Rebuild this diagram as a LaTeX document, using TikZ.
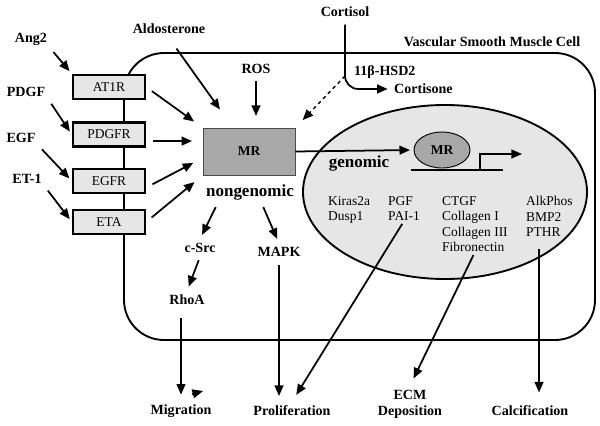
\documentclass[tikz,border=0pt]{standalone}
\usepackage{fontspec}
\setmainfont{Liberation Serif}
\usepackage{xcolor}
\usetikzlibrary{arrows.meta,shapes.geometric,positioning}
\definecolor{mrgray}{HTML}{A8A8A8}
\definecolor{boxgray}{HTML}{E6E6E6}

\begin{document}
\begin{tikzpicture}
[x=0.03cm,y=-0.03cm,>={Triangle[length=9pt,width=7.5pt]},
every node/.style={font=\fontsize{11.5}{13.2}\selectfont},
lbl/.style={font=\fontsize{12}{13.5}\selectfont\bfseries},
big/.style={font=\fontsize{14.5}{16}\selectfont\bfseries},
rec/.style={draw,line width=2pt,fill=boxgray,minimum width=2.16cm,
	minimum height=0.72cm,inner sep=0pt},
arr/.style={->,line width=1.5pt,shorten <=3pt,shorten >=3pt},
genes/.style={align=left,anchor=north west,inner sep=0pt}]
\useasboundingbox (0,0) rectangle (600,425);

% cell and nucleus
\draw[line width=1.6pt,rounded corners=1.2cm] (124,53) rectangle (595,340);
\node[ellipse,draw,line width=1.6pt,fill=boxgray,minimum width=8.52cm,
	minimum height=5.22cm,inner sep=0pt] (nucleus) at (445,192) {};
\node[lbl] (vsmc) at (492,42) {Vascular Smooth Muscle Cell};

% receptors
\node[rec] (at1r) at (109,87) {AT1R};
\node[rec] (pdgfr) at (109,134.5) {PDGFR};
\node[rec] (egfr) at (109,181) {EGFR};
\node[rec] (eta) at (109,222) {ETA};

% ligands
\node[lbl] (ang2) at (31,39) {Ang2};
\node[lbl] (pdgf) at (26,92) {PDGF};
\node[lbl] (egf) at (21,138) {EGF};
\node[lbl] (et1) at (27,179) {ET-1};
\node[lbl] (aldo) at (169,29) {Aldosterone};
\node[lbl] (ros) at (256,69) {ROS};
\node[lbl] (cortisol) at (345,12) {Cortisol};
\node[lbl,anchor=west] (cortisone) at (390,89) {Cortisone};
\node[lbl,anchor=west] (hsd) at (350,72) {11β-HSD2};
\coordinate (hsdpt) at (345,76);

% receptor MR
\node[draw=black!70,line width=0.6pt,fill=mrgray,minimum width=2.76cm,
	minimum height=1.41cm] (mr) at (249,151.5) {\bfseries MR};
\node[big] (nongen) at (250,192) {nongenomic};
\node[big] (genomic) at (359,163) {genomic};
\node[ellipse,draw,line width=0.8pt,fill=mrgray,minimum width=1.68cm,
	minimum height=1.08cm,inner sep=0pt] (nmr) at (442,150) {\bfseries MR};
\coordinate (dnaL) at (411,170);
\coordinate (dnaR) at (503,170);
\coordinate (tss) at (480,170);
\coordinate (tssend) at (522,154);

% target genes
\node[genes] (genesA) at (328,196) {Kiras2a\\Dusp1};
\node[genes] (genesB) at (388,196) {PGF\\PAI-1};
\node[genes] (genesC) at (442,196) {CTGF\\Collagen I\\Collagen III\\Fibronectin};
\node[genes] (genesD) at (526,196) {AlkPhos\\BMP2\\PTHR};
\coordinate (pthr) at (539,249);

% signalling
\node[lbl] (csrc) at (200,248) {c-Src};
\node[lbl] (mapk) at (279,252) {MAPK};
\node[lbl] (rhoa) at (187,300) {RhoA};

% outcomes
\node[lbl] (migr) at (181,411) {Migration};
\node[lbl] (prolif) at (292,411) {Proliferation};
\node[lbl,align=center] (ecm) at (410,404) {ECM\\Deposition};
\node[lbl] (calc) at (530,411) {Calcification};

% connectors
\path
\foreach \startNode/\endNode in {ang2.south east/at1r.north west,
	pdgf.south east/pdgfr.west,egf.south east/egfr.west,et1.south east/eta.west}
{
	(\startNode) edge[arr] (\endNode)
};
\path
\foreach \startNode/\endNode in {at1r.east/mr.north west,
	pdgfr.-10/pdgfr.-10 -| mr.west,egfr.-10/mr.188,eta.east/mr.south west}
{
	(\startNode) edge[arr,shorten <=6pt,shorten >=9pt] (\endNode)
};
\draw[arr,shorten <=11pt,shorten >=19pt] (aldo.south) -- (mr.124);
\draw[arr,shorten >=10pt] (ros.south) -- (ros.south |- mr.north);
\draw[arr,rounded corners=0.4cm,shorten >=2pt] (cortisol.south) |- (cortisone.west);
\draw[arr,line width=1.2pt,dashed,shorten <=0pt,shorten >=9pt] (hsdpt) -- (mr.north east);
\draw[arr,shorten <=0pt] (mr.east) -- (nmr.west);
\draw[line width=1.5pt] (dnaL) -- (dnaR);
\draw[arr,shorten <=0pt,shorten >=0pt] (tss) |- (tssend);
\path
\foreach \startNode/\endNode in {nongen.200/csrc.north,nongen.-45/mapk.north,
	csrc.south/rhoa.north}
{
	(\startNode) edge[arr,shorten >=4pt] (\endNode)
};
\draw[arr,shorten <=8pt,shorten >=5pt] (migr.north |- rhoa.south) -- (migr.north);
\draw[arr,shorten <=4pt,shorten >=5pt] (mapk.south) -- (mapk.south |- prolif.north);
\draw[arr,shorten >=7pt] (genesB.south) -- (prolif.north);
\draw[arr,shorten >=7pt] (genesC.south) -- (ecm.north);
\draw[arr,shorten <=0pt,shorten >=8pt] (pthr) -- (pthr |- calc.north);
\draw[arr,shorten <=0pt,shorten >=0pt] (192,394) -- (203,391);
\end{tikzpicture}
\end{document}
